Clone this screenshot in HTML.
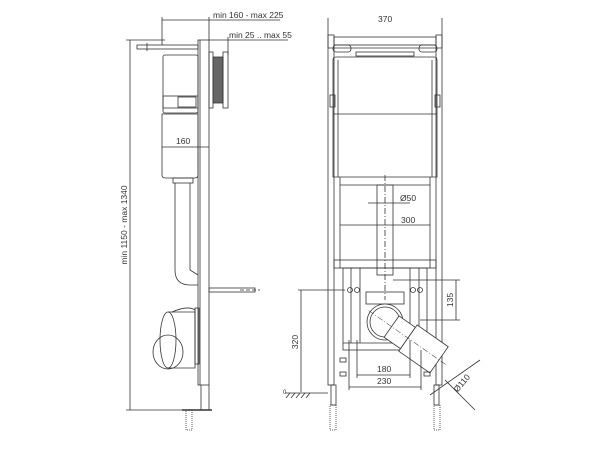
<!DOCTYPE html>
<html><head><meta charset="utf-8"><style>
html,body{margin:0;padding:0;background:#fff}
svg{display:block}
text{font-family:"Liberation Sans",sans-serif;font-size:8.5px;fill:#333}
</style></head><body>
<svg width="600" height="450" viewBox="0 0 600 450" xmlns="http://www.w3.org/2000/svg">
<g fill="none" stroke="#333" stroke-width="0.8">
<!-- SIDE VIEW -->
<line x1="162" y1="20" x2="280" y2="20"/>
<line x1="162" y1="17" x2="162" y2="45"/>
<line x1="209" y1="17" x2="209" y2="40"/>
<line x1="209" y1="40" x2="288" y2="40"/>
<line x1="228" y1="37" x2="228" y2="55"/>
<line x1="130" y1="40" x2="130" y2="410"/>
<line x1="126" y1="40" x2="165" y2="40"/>
<line x1="126" y1="410" x2="190" y2="410"/>
<rect x="198" y="40" width="11" height="345"/>
<line x1="200" y1="40" x2="200" y2="385"/>
<rect x="137" y="45" width="61" height="4"/>
<line x1="147" y1="43" x2="147" y2="51"/>
<rect x="163" y="55" width="35" height="58" rx="2"/>
<rect x="163" y="96" width="35" height="12"/>
<rect x="178" y="97" width="18" height="10"/>
<path d="M162 114 H198 V175 Q198 178 195 178 H165 Q162 178 162 175 Z"/>
<line x1="162" y1="147" x2="209" y2="147"/>
<rect x="173" y="178" width="20" height="5"/>
<rect x="209" y="52" width="4" height="56"/>
<rect x="213" y="57" width="10" height="46" fill="#666"/>
<rect x="223" y="52" width="5" height="56"/>
<path d="M175 183 V270 Q175 285 190 285 H198"/>
<line x1="190" y1="183" x2="190" y2="270"/>
<line x1="190" y1="270" x2="198" y2="275"/>
<rect x="209" y="288" width="46" height="4"/>
<line x1="240" y1="290" x2="260" y2="290" stroke-dasharray="4 2"/>
<path d="M172 312 Q188 305 195 310 V360"/>
<rect x="195" y="308" width="4" height="56"/>
<path d="M168 312 H195 V368 H168"/>
<ellipse cx="168" cy="340" rx="8" ry="28"/>
<ellipse cx="168" cy="352" rx="15" ry="17"/>
<line x1="201" y1="385" x2="201" y2="410"/>
<line x1="209" y1="385" x2="209" y2="410"/>
<line x1="182" y1="410" x2="212" y2="410" stroke-width="1.5"/>
<rect x="186" y="410" width="6" height="20" stroke-dasharray="1 1"/>

<!-- FRONT VIEW -->
<line x1="328" y1="48" x2="442" y2="48"/>
<line x1="328" y1="18" x2="328" y2="48"/>
<line x1="442" y1="18" x2="442" y2="48"/>
<rect x="328" y="35" width="6" height="350"/>
<rect x="436" y="35" width="6" height="350"/>
<rect x="334" y="37" width="102" height="8"/>
<rect x="333" y="45" width="18" height="7" rx="3"/>
<rect x="419" y="45" width="18" height="7" rx="3"/>
<rect x="356" y="52" width="58" height="4"/>
<path d="M333 60 Q333 57 336 57 H434 Q437 57 437 60 V177 H333 Z"/>
<line x1="338" y1="60" x2="338" y2="177"/>
<line x1="432" y1="60" x2="432" y2="177"/>
<line x1="333" y1="114" x2="437" y2="114"/>
<rect x="330" y="95" width="5" height="12"/>
<rect x="435" y="95" width="5" height="12"/>
<line x1="340" y1="177" x2="340" y2="185"/>
<line x1="430" y1="177" x2="430" y2="185"/>
<line x1="340" y1="185" x2="430" y2="185"/>
<rect x="377" y="185" width="16" height="90"/>
<line x1="385" y1="175" x2="385" y2="300" stroke-dasharray="6 2 1 2"/>
<line x1="368" y1="203" x2="410" y2="203"/>
<line x1="340" y1="225" x2="430" y2="225"/>
<line x1="340" y1="185" x2="340" y2="268"/>
<line x1="430" y1="185" x2="430" y2="268"/>
<rect x="334" y="260" width="102" height="8"/>
<rect x="343" y="268" width="84" height="82"/>
<line x1="351" y1="268" x2="351" y2="343"/>
<line x1="360" y1="268" x2="360" y2="343"/>
<line x1="410" y1="268" x2="410" y2="343"/>
<line x1="419" y1="268" x2="419" y2="343"/>
<line x1="343" y1="343" x2="427" y2="343"/>
<circle cx="350" cy="290" r="2.5"/><circle cx="357" cy="290" r="2.5"/>
<circle cx="413" cy="290" r="2.5"/><circle cx="420" cy="290" r="2.5"/>
<rect x="366" y="292" width="38" height="12"/>
<circle cx="385" cy="322" r="18" fill="#fff"/>
<circle cx="385" cy="322" r="15"/>
<g transform="translate(385 322) rotate(35)">
<rect x="8" y="-13" width="20" height="26" fill="#fff"/>
<rect x="28" y="-16" width="38" height="32" fill="#fff"/>
<line x1="-20" y1="0" x2="75" y2="0" stroke-dasharray="6 2 1 2" stroke-width="0.5"/>
</g>
<line x1="456" y1="280" x2="456" y2="320"/>
<line x1="393" y1="280" x2="460" y2="280"/>
<line x1="420" y1="320" x2="460" y2="320"/>
<line x1="357" y1="375" x2="410" y2="375"/>
<line x1="349" y1="387" x2="421" y2="387"/>
<line x1="357" y1="340" x2="357" y2="378"/>
<line x1="410" y1="340" x2="410" y2="378"/>
<line x1="349" y1="340" x2="349" y2="390"/>
<line x1="421" y1="350" x2="421" y2="390"/>
<line x1="301" y1="290" x2="301" y2="392"/>
<line x1="298" y1="290" x2="345" y2="290"/>
<line x1="285" y1="393" x2="328" y2="393"/>
<path d="M290 393 l-4 5 M295 393 l-4 5 M300 393 l-4 5 M305 393 l-4 5 M310 393 l-4 5"/>
<line x1="430" y1="395" x2="480" y2="360"/>
<line x1="445" y1="380" x2="475" y2="410"/>
<rect x="331" y="385" width="5" height="20"/>
<rect x="434" y="385" width="5" height="20"/>
<rect x="330" y="405" width="6" height="25" stroke-dasharray="1 1"/>
<rect x="434" y="405" width="6" height="25" stroke-dasharray="1 1"/>
<rect x="340" y="358" width="6" height="4"/><rect x="340" y="372" width="6" height="4"/>
<rect x="424" y="372" width="6" height="4"/>
</g>
<text x="213" y="18">min 160 - max 225</text>
<text x="229" y="38">min 25 .. max 55</text>
<text x="176" y="144">160</text>
<text transform="translate(127 225) rotate(-90)" text-anchor="middle">min 1150 - max 1340</text>
<text x="378" y="22">370</text>
<text x="400" y="201">Ø50</text>
<text x="401" y="223">300</text>
<text transform="translate(453 300) rotate(-90)" text-anchor="middle">135</text>
<text x="377" y="372">180</text>
<text x="377" y="384">230</text>
<text transform="translate(298 342) rotate(-90)" text-anchor="middle">320</text>
<text x="283" y="394" style="font-size:6px">0</text>
<text transform="translate(464 385) rotate(-50)" text-anchor="middle">Ø110</text>
</svg>
</body></html>
